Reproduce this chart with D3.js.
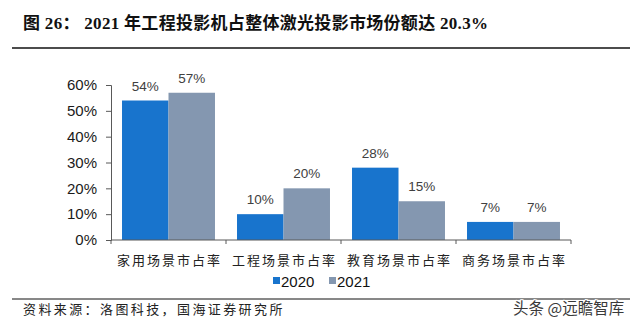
<!DOCTYPE html>
<html>
<head>
<meta charset="utf-8">
<script src="https://cdn.jsdelivr.net/npm/d3@7/dist/d3.min.js"></script>
<style>
  html, body { margin: 0; padding: 0; background: #fff; }
  svg { display: block; }
</style>
</head>
<body>
<svg id="chart" width="640" height="326"></svg>
<script>
// Laser projection market share by scenario, 2020 vs 2021
const categories = ["家用场景市占率", "工程场景市占率", "教育场景市占率", "商务场景市占率"];
const seriesNames = ["2020", "2021"];
const values2020 = [0.54, 0.10, 0.28, 0.07];
const values2021 = [0.57, 0.20, 0.15, 0.07];
const yTicks = [0, 0.1, 0.2, 0.3, 0.4, 0.5, 0.6];

const titleText = "图 26： 2021 年工程投影机占整体激光投影市场份额达 20.3%";
const sourceText = "资料来源：洛图科技，国海证券研究所";
const watermarkText = "头条 @远瞻智库";

const colors = { "2020": "#1874CD", "2021": "#8497B0" };
const cjk = "'Noto Sans CJK SC', 'Noto Sans', sans-serif";
const latin = "'Liberation Sans', Arial, sans-serif";

const svg = d3.select("#chart");

// Title: serif digits, CJK glyphs bold
svg.append("text")
  .attr("x", 23).attr("y", 29)
  .attr("font-family", "'Liberation Serif', 'Noto Sans CJK SC', serif")
  .attr("font-weight", "bold")
  .attr("font-size", 17)
  .attr("letter-spacing", 0.3)
  .attr("fill", "#111")
  .text(titleText);

svg.append("line")
  .attr("x1", 12).attr("x2", 630).attr("y1", 48).attr("y2", 48)
  .attr("stroke", "#111").attr("stroke-width", 1.5);

// Scales
const plot = { left: 111, right: 571, top: 85, bottom: 240 };
const y = d3.scaleLinear().domain([0, 0.6]).range([plot.bottom, plot.top]);
const x0 = d3.scaleBand().domain(categories).range([plot.left, plot.right]).padding(0);
const x1 = d3.scaleBand().domain(seriesNames).range([0, x0.bandwidth()])
  .paddingInner(0).paddingOuter(0.237);

const rows = categories.map((c, i) => ({
  category: c,
  bars: [
    { series: "2020", value: values2020[i] },
    { series: "2021", value: values2021[i] }
  ]
}));

// Bars
const groups = svg.append("g").selectAll("g")
  .data(rows).join("g")
  .attr("transform", d => `translate(${x0(d.category)},0)`);

groups.selectAll("rect")
  .data(d => d.bars).join("rect")
  .attr("x", d => x1(d.series))
  .attr("y", d => y(d.value))
  .attr("width", x1.bandwidth())
  .attr("height", d => y(0) - y(d.value))
  .attr("fill", d => colors[d.series]);

// Value labels
groups.selectAll("text.val")
  .data(d => d.bars).join("text")
  .attr("class", "val")
  .attr("x", d => x1(d.series) + x1.bandwidth() / 2)
  .attr("y", d => y(d.value) - 10)
  .attr("text-anchor", "middle")
  .attr("font-family", latin)
  .attr("font-size", 13.5)
  .attr("fill", "#404040")
  .text(d => d3.format(".0%")(d.value));

// Y axis
const yAxis = svg.append("g")
  .attr("transform", `translate(${plot.left},0)`)
  .call(d3.axisLeft(y).tickValues(yTicks).tickFormat(d3.format(".0%")).tickSize(5).tickPadding(9));
yAxis.select(".domain").attr("stroke", "#595959");
yAxis.selectAll(".tick line").attr("stroke", "#595959");
yAxis.selectAll(".tick text")
  .attr("font-family", latin).attr("font-size", 15).attr("fill", "#1a1a1a");

// X axis: baseline with ticks at group boundaries
const xAxisG = svg.append("g").attr("transform", `translate(0,${plot.bottom})`);
xAxisG.append("line")
  .attr("x1", plot.left).attr("x2", plot.right)
  .attr("stroke", "#595959");
const boundaries = categories.map(c => x0(c)).concat([x0(categories[categories.length - 1]) + x0.bandwidth()]);
xAxisG.selectAll("line.tk")
  .data(boundaries).join("line")
  .attr("class", "tk")
  .attr("x1", d => d).attr("x2", d => d)
  .attr("y1", 0).attr("y2", 4)
  .attr("stroke", "#595959");

xAxisG.selectAll("text.cat")
  .data(categories).join("text")
  .attr("class", "cat")
  .attr("x", d => x0(d) + x0.bandwidth() / 2 + 1)
  .attr("y", 25)
  .attr("text-anchor", "middle")
  .attr("font-family", cjk)
  .attr("font-size", 13)
  .attr("letter-spacing", 2)
  .attr("fill", "#222")
  .text(d => d);

// Legend
const legend = svg.append("g").attr("transform", "translate(273,281)");
const legendX = { "2020": 0, "2021": 56 };
seriesNames.forEach(s => {
  const g = legend.append("g").attr("transform", `translate(${legendX[s]},0)`);
  g.append("rect").attr("x", 0).attr("y", -4).attr("width", 7).attr("height", 7)
    .attr("fill", colors[s]);
  g.append("text").attr("x", 8).attr("y", 5.5)
    .attr("font-family", latin).attr("font-size", 15).attr("fill", "#111")
    .text(s);
});

// Footer
svg.append("line")
  .attr("x1", 12).attr("x2", 630).attr("y1", 299).attr("y2", 299)
  .attr("stroke", "#111").attr("stroke-width", 1);

svg.append("text")
  .attr("x", 23).attr("y", 314)
  .attr("font-family", cjk)
  .attr("font-size", 13)
  .attr("letter-spacing", 2.4)
  .attr("fill", "#222")
  .text(sourceText);

svg.append("text")
  .attr("x", 513).attr("y", 314)
  .attr("font-family", cjk)
  .attr("font-size", 15.5)
  .attr("fill", "#3a3a3a")
  .attr("stroke", "#fff")
  .attr("stroke-width", 2)
  .attr("paint-order", "stroke")
  .text(watermarkText);
</script>
</body>
</html>
